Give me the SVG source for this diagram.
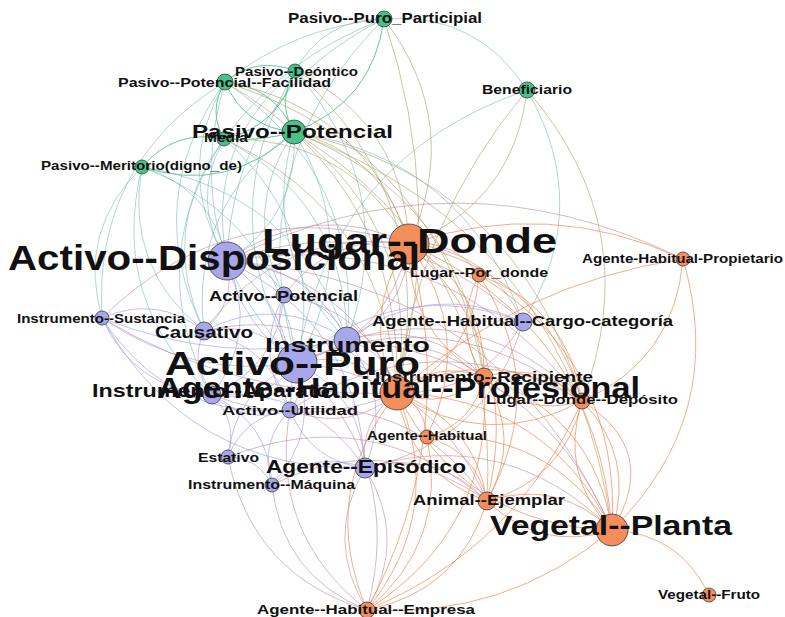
<svg xmlns="http://www.w3.org/2000/svg" width="785" height="617" viewBox="0 0 785 617">
  <style>
    .edges path { fill: none; stroke-width: 0.9; stroke-linecap: round; }
    .g path { stroke: #35b97a; stroke-opacity: 0.85; }
    .t path { stroke: #6db4ae; stroke-opacity: 0.6; }
    .o path { stroke: #a6a068; stroke-opacity: 0.65; }
    .p path { stroke: #9d9be6; stroke-opacity: 0.7; }
    .m path { stroke: #b57f93; stroke-opacity: 0.6; }
    .r path { stroke: #f0834f; stroke-opacity: 0.75; }
    .node circle { stroke: #3c3c3c; stroke-width: 0.8; }
    .ng circle { fill: #47c38a; }
    .np circle { fill: #a9a7ec; }
    .no circle { fill: #f48e5c; }
    .node text { font-family: "Liberation Sans", Arial, sans-serif; font-weight: bold; fill: #111; }
  </style>
  <rect width="785" height="617" fill="#ffffff"/>

  <g id="connectors" class="edges">
    <g class="g">
      <path d="M294 132 Q244.5 127.7 225 82" stroke-width="2.5"/>
      <path d="M225 82 Q274.5 86.3 294 132" stroke-width="2"/>
      <path d="M294 132 Q276 101.5 295 71" stroke-width="2"/>
      <path d="M384 19 Q373 102.5 294 132" stroke-width="1.6"/>
      <path d="M294 132 Q259 142 224 139" stroke-width="3"/>
      <path d="M294 132 Q228.5 195 142 167" stroke-width="1.6"/>
      <path d="M225 82 Q256.7 55.5 295 71" stroke-width="1.2"/>
      <path d="M224 139 Q207.4 110.5 225 82" stroke-width="1.6"/>
      <path d="M142 167 Q174.6 128.4 224 139" stroke-width="1.2"/>
      <path d="M295 71 Q279.9 126.3 224 139"/>
    </g>
    <g class="t">
      <path d="M384 19 Q476.8 11.6 527 90"/>
      <path d="M295 71 Q323.9 18.3 384 19"/>
      <path d="M225 82 Q295 26.6 384 19"/>
      <path d="M224 139 Q286 55 384 19"/>
      <path d="M227 261 Q172.3 172.1 225 82"/>
      <path d="M297 363 Q177 244 225 82"/>
      <path d="M225 82 Q363 174 347 340"/>
      <path d="M102 318 Q92.7 163 225 82"/>
      <path d="M227 261 Q189 201 224 139"/>
      <path d="M224 139 Q327.7 229 297 363"/>
      <path d="M204 331 Q156.4 229 224 139"/>
      <path d="M212 395 Q141 263 224 139"/>
      <path d="M142 167 Q212.7 188.5 227 261"/>
      <path d="M102 318 Q76.7 230.5 142 167"/>
      <path d="M142 167 Q278.3 218.5 297 363"/>
      <path d="M204 331 Q123.8 267.6 142 167"/>
      <path d="M294 132 Q299.2 216.6 227 261"/>
      <path d="M294 132 Q364.8 246.6 297 363"/>
      <path d="M347 340 Q258 252 294 132"/>
      <path d="M284 295 Q240 210.5 294 132"/>
      <path d="M294 132 Q465.5 158.3 523 322"/>
      <path d="M297 363 Q208.4 217.6 295 71"/>
      <path d="M227 261 Q232.9 92.9 384 19"/>
      <path d="M297 363 Q237.3 164.9 384 19"/>
      <path d="M297 363 Q330 157.5 527 90"/>
      <path d="M527 90 Q594.6 207 523 322"/>
      <path d="M212 395 Q108.6 302 142 167"/>
      <path d="M227 261 Q204 145.6 295 71"/>
      <path d="M295 71 Q401.7 190 347 340"/>
      <path d="M204 331 Q139.8 200.2 225 82"/>
      <path d="M204 331 Q189.3 204.5 294 132"/>
      <path d="M224 139 Q345.8 202.6 347 340"/>
      <path d="M142 167 Q296.4 192 347 340"/>
    </g>
    <g class="o">
      <path d="M225 82 Q404 186 397 393"/>
      <path d="M225 82 Q365.6 107.8 409 244"/>
      <path d="M224 139 Q348 136 409 244"/>
      <path d="M224 139 Q386.7 214 397 393"/>
      <path d="M294 132 Q385 153.5 409 244" stroke-width="1.5"/>
      <path d="M294 132 Q423.8 231.6 397 393" stroke-width="1.5"/>
      <path d="M294 132 Q462.5 197.5 484 377" stroke-width="1.3"/>
      <path d="M294 132 Q501.2 258.6 487 501"/>
      <path d="M294 132 Q518.7 180 582 401"/>
      <path d="M295 71 Q403.9 123.3 409 244"/>
      <path d="M295 71 Q442.6 201.4 397 393"/>
      <path d="M384 19 Q464 124 409 244"/>
      <path d="M397 393 Q416.5 222 527 90"/>
      <path d="M527 90 Q514 202 409 244"/>
      <path d="M527 90 Q647.8 229 582 401"/>
      <path d="M294 132 Q572.4 235.6 612 530"/>
      <path d="M384 19 Q446.6 204 397 393"/>
      <path d="M225 82 Q443 151.8 484 377"/>
    </g>
    <g class="p">
      <path d="M297 363 Q241.6 326 227 261" stroke-width="4.5"/>
      <path d="M297 363 Q270 333 284 295" stroke-width="3"/>
      <path d="M290 410 Q252.5 354 284 295" stroke-width="2"/>
      <path d="M204 331 Q260 319 297 363" stroke-width="4"/>
      <path d="M297 363 Q362.5 395 365 468" stroke-width="3"/>
      <path d="M297 363 Q264 404.5 212 395" stroke-width="3"/>
      <path d="M297 363 Q307.6 388.6 290 410" stroke-width="2.5"/>
      <path d="M227 261 Q310.7 264.5 347 340" stroke-width="1.5"/>
      <path d="M227 261 Q265.7 261 284 295" stroke-width="1.5"/>
      <path d="M227 261 Q236.5 303 204 331" stroke-width="1.5"/>
      <path d="M227 261 Q259.7 332.5 212 395" stroke-width="2"/>
      <path d="M227 261 Q303.2 316.6 290 410"/>
      <path d="M227 261 Q358 323 365 468" stroke-width="1.2"/>
      <path d="M297 363 Q190.5 379.5 102 318"/>
      <path d="M212 395 Q133.9 389.5 102 318"/>
      <path d="M290 410 Q168.4 420.4 102 318"/>
      <path d="M347 340 Q221 366 102 318"/>
      <path d="M102 318 Q157 294 204 331"/>
      <path d="M365 468 Q188.5 472 102 318"/>
      <path d="M204 331 Q278 292.6 347 340"/>
      <path d="M212 395 Q188.8 365.4 204 331"/>
      <path d="M204 331 Q270.7 344.7 290 410"/>
      <path d="M290 410 Q246.5 426 212 395" stroke-width="2"/>
      <path d="M212 395 Q238.6 421 228 457"/>
      <path d="M212 395 Q269 422 272 485"/>
      <path d="M228 457 Q244.9 414.9 290 410"/>
      <path d="M228 457 Q234.3 389.3 297 363"/>
      <path d="M228 457 Q258.4 457.8 272 485"/>
      <path d="M272 485 Q258.5 442 290 410"/>
      <path d="M297 363 Q321 431.5 272 485" stroke-width="2.5"/>
      <path d="M272 485 Q313.4 448.6 365 468"/>
      <path d="M365 468 Q310 461.5 290 410"/>
      <path d="M347 340 Q394.4 398.6 365 468" stroke-width="1.5"/>
      <path d="M297 363 Q315 336.5 347 340" stroke-width="2"/>
      <path d="M284 295 Q329 298.6 347 340"/>
      <path d="M284 295 Q278 366.6 212 395"/>
      <path d="M297 363 Q397.7 274.7 523 322" stroke-width="1.2"/>
      <path d="M347 340 Q429.6 278 523 322"/>
      <path d="M212 395 Q310.4 385.6 365 468"/>
    </g>
    <g class="m">
      <path d="M227 261 Q393 202.7 523 322"/>
      <path d="M523 322 Q481 395 397 393"/>
      <path d="M409 244 Q489.4 248.8 523 322"/>
      <path d="M523 322 Q487.8 442.4 365 468"/>
      <path d="M347 340 Q388 351.5 397 393" stroke-width="5"/>
      <path d="M297 363 Q356 348 397 393" stroke-width="4"/>
      <path d="M409 244 Q388.7 337 297 363" stroke-width="2.5"/>
      <path d="M409 244 Q406.8 310.6 347 340" stroke-width="1.5"/>
      <path d="M227 261 Q313 198 409 244" stroke-width="1.5"/>
      <path d="M227 261 Q351.6 276 397 393" stroke-width="1.5"/>
      <path d="M365 468 Q358.5 421 397 393" stroke-width="2"/>
      <path d="M365 468 Q408.6 538.4 367 610" stroke-width="1.2"/>
      <path d="M367 610 Q323.4 539.6 365 468"/>
      <path d="M367 610 Q282 576 272 485"/>
      <path d="M367 610 Q251.6 575.2 228 457"/>
      <path d="M367 610 Q268.5 533 290 410"/>
      <path d="M297 363 Q406 465.5 367 610"/>
      <path d="M365 468 Q436 448 487 501"/>
      <path d="M397 393 Q305 431 212 395"/>
      <path d="M397 393 Q348.6 433.6 290 410"/>
      <path d="M290 410 Q415.8 396.4 487 501"/>
      <path d="M347 340 Q426.6 317.4 484 377"/>
      <path d="M297 363 Q394.7 313.9 484 377"/>
      <path d="M102 318 Q233.3 189 409 244"/>
      <path d="M397 393 Q238 400 102 318"/>
      <path d="M204 331 Q319 304 397 393"/>
      <path d="M227 261 Q446.5 224.5 582 401"/>
      <path d="M227 261 Q500 280 612 530"/>
      <path d="M347 340 Q536.5 355.5 612 530"/>
      <path d="M297 363 Q433.4 375 487 501"/>
      <path d="M227 261 Q454.5 146 683 259"/>
      <path d="M365 468 Q507 425 612 530"/>
      <path d="M272 485 Q384.3 428.5 487 501"/>
      <path d="M228 457 Q370.7 401.3 487 501"/>
      <path d="M297 363 Q451 296.5 582 401"/>
      <path d="M347 340 Q482.8 300 582 401"/>
      <path d="M290 410 Q433.3 317.9 582 401"/>
      <path d="M204 331 Q280.4 226 409 244"/>
      <path d="M284 295 Q331 232 409 244"/>
      <path d="M284 295 Q370 310 397 393"/>
    </g>
    <g class="r">
      <path d="M397 393 Q358.3 315 409 244" stroke-width="3.5"/>
      <path d="M484 377 Q406.6 333 409 244" stroke-width="1.5"/>
      <path d="M409 244 Q486.4 288 484 377"/>
      <path d="M397 393 Q435.7 359 484 377" stroke-width="3"/>
      <path d="M484 377 Q445.3 411 397 393" stroke-width="1.5"/>
      <path d="M397 393 Q474.4 420 487 501" stroke-width="2.5"/>
      <path d="M487 501 Q409.6 474 397 393" stroke-width="1.5"/>
      <path d="M397 393 Q545.6 397 612 530" stroke-width="2"/>
      <path d="M612 530 Q463.4 526 397 393"/>
      <path d="M397 393 Q425.2 406 427 437" stroke-width="1.5"/>
      <path d="M397 393 Q492 341.5 582 401" stroke-width="1.5"/>
      <path d="M582 401 Q487 452.5 397 393"/>
      <path d="M479 275 Q473.4 358.6 397 393"/>
      <path d="M397 393 Q447 510.5 367 610"/>
      <path d="M367 610 Q317 492.5 397 393"/>
      <path d="M409 244 Q453.3 238.5 479 275"/>
      <path d="M409 244 Q542.6 270.6 582 401"/>
      <path d="M409 244 Q596.3 326 612 530" stroke-width="1.2"/>
      <path d="M409 244 Q525 349 487 501"/>
      <path d="M409 244 Q476 335 427 437"/>
      <path d="M409 244 Q461 435 367 610"/>
      <path d="M479 275 Q622 362.6 612 530"/>
      <path d="M479 275 Q568 307 582 401"/>
      <path d="M484 377 Q451 327.5 479 275"/>
      <path d="M484 377 Q540 359.6 582 401" stroke-width="1.5"/>
      <path d="M582 401 Q526 418 484 377"/>
      <path d="M484 377 Q594 415 612 530"/>
      <path d="M484 377 Q522.7 438 487 501"/>
      <path d="M582 401 Q635.7 456.5 612 530"/>
      <path d="M612 530 Q558.3 474.5 582 401"/>
      <path d="M582 401 Q661.5 450.5 612 530"/>
      <path d="M487 501 Q558 478 612 530" stroke-width="1.5"/>
      <path d="M612 530 Q541 553 487 501"/>
      <path d="M612 530 Q680 533.4 709 595" stroke-width="1.2"/>
      <path d="M612 530 Q505.5 619 367 610"/>
      <path d="M427 437 Q547.4 428 612 530"/>
      <path d="M427 437 Q476 451 487 501"/>
      <path d="M427 437 Q449 541.5 367 610"/>
      <path d="M487 501 Q459.7 591.5 367 610"/>
      <path d="M582 401 Q516 548.5 367 610"/>
      <path d="M484 377 Q495.4 528.6 367 610"/>
      <path d="M582 401 Q564.5 479.5 487 501"/>
      <path d="M484 377 Q473.5 424 427 437"/>
      <path d="M479 275 Q550.8 385.6 487 501"/>
      <path d="M397 393 Q520 283 683 259"/>
      <path d="M683 259 Q675 360 582 401"/>
      <path d="M683 259 Q728.8 415.8 612 530"/>
      <path d="M409 244 Q549 196.7 683 259"/>
    </g>
  </g>

  <!-- node markers -->
  <g id="n-pasivo-puro-participial" class="node ng"><circle cx="384" cy="19" r="8"/></g>
  <g id="n-pasivo-deontico" class="node ng"><circle cx="295" cy="71" r="7"/></g>
  <g id="n-pasivo-potencial-facilidad" class="node ng"><circle cx="225" cy="82" r="8"/></g>
  <g id="n-beneficiario" class="node ng"><circle cx="527" cy="90" r="8"/></g>
  <g id="n-pasivo-potencial" class="node ng"><circle cx="294" cy="132" r="12"/></g>
  <g id="n-media" class="node ng"><circle cx="224" cy="139" r="7"/></g>
  <g id="n-pasivo-meritorio" class="node ng"><circle cx="142" cy="167" r="7"/></g>

  <g id="n-activo-disposicional" class="node np"><circle cx="227" cy="261" r="19"/></g>
  <g id="n-activo-potencial" class="node np"><circle cx="284" cy="295" r="8"/></g>
  <g id="n-instrumento-sustancia" class="node np"><circle cx="102" cy="318" r="7"/></g>
  <g id="n-causativo" class="node np"><circle cx="204" cy="331" r="9"/></g>
  <g id="n-instrumento" class="node np"><circle cx="347" cy="340" r="13"/></g>
  <g id="n-activo-puro" class="node np"><circle cx="297" cy="363" r="20"/></g>
  <g id="n-instrumento-aparato" class="node np"><circle cx="212" cy="395" r="9"/></g>
  <g id="n-activo-utilidad" class="node np"><circle cx="290" cy="410" r="8"/></g>
  <g id="n-estativo" class="node np"><circle cx="228" cy="457" r="7"/></g>
  <g id="n-agente-episodico" class="node np"><circle cx="365" cy="468" r="10"/></g>
  <g id="n-instrumento-maquina" class="node np"><circle cx="272" cy="485" r="7"/></g>
  <g id="n-cargo-categoria" class="node np"><circle cx="523" cy="322" r="9"/></g>

  <g id="n-lugar-donde" class="node no"><circle cx="409" cy="244" r="20"/></g>
  <g id="n-lugar-por-donde" class="node no"><circle cx="479" cy="275" r="7"/></g>
  <g id="n-propietario" class="node no"><circle cx="683" cy="259" r="7"/></g>
  <g id="n-instrumento-recipiente" class="node no"><circle cx="484" cy="377" r="9"/></g>
  <g id="n-agente-habitual-profesional" class="node no"><circle cx="397" cy="393" r="17"/></g>
  <g id="n-lugar-donde-deposito" class="node no"><circle cx="582" cy="401" r="8"/></g>
  <g id="n-agente-habitual" class="node no"><circle cx="427" cy="437" r="7"/></g>
  <g id="n-animal-ejemplar" class="node no"><circle cx="487" cy="501" r="9"/></g>
  <g id="n-vegetal-planta" class="node no"><circle cx="612" cy="530" r="16"/></g>
  <g id="n-vegetal-fruto" class="node no"><circle cx="709" cy="595" r="7"/></g>
  <g id="n-agente-habitual-empresa" class="node no"><circle cx="367" cy="610" r="8"/></g>

  <!-- labels, drawn over all markers -->
  <g id="labels" class="node">
    <text x="288" y="23" font-size="14" textLength="194" lengthAdjust="spacingAndGlyphs">Pasivo--Puro_Participial</text>
    <text x="235" y="76" font-size="13" textLength="123" lengthAdjust="spacingAndGlyphs">Pasivo--Deóntico</text>
    <text x="118" y="87" font-size="13" textLength="213" lengthAdjust="spacingAndGlyphs">Pasivo--Potencial--Facilidad</text>
    <text x="482" y="94" font-size="13" textLength="90" lengthAdjust="spacingAndGlyphs">Beneficiario</text>
    <text x="192" y="138" font-size="19" textLength="201" lengthAdjust="spacingAndGlyphs">Pasivo--Potencial</text>
    <text x="204" y="142" font-size="12" textLength="44" lengthAdjust="spacingAndGlyphs">Media</text>
    <text x="41" y="170" font-size="13" textLength="201" lengthAdjust="spacingAndGlyphs">Pasivo--Meritorio(digno_de)</text>
    <text x="262" y="253" font-size="35" textLength="295" lengthAdjust="spacingAndGlyphs">Lugar--Donde</text>
    <text x="8" y="270" font-size="35" textLength="412" lengthAdjust="spacingAndGlyphs">Activo--Disposicional</text>
    <text x="410" y="277" font-size="13" textLength="138" lengthAdjust="spacingAndGlyphs">Lugar--Por_donde</text>
    <text x="582" y="263" font-size="13" textLength="201" lengthAdjust="spacingAndGlyphs">Agente-Habitual-Propietario</text>
    <text x="209" y="301" font-size="14" textLength="149" lengthAdjust="spacingAndGlyphs">Activo--Potencial</text>
    <text x="17" y="323" font-size="12" textLength="168" lengthAdjust="spacingAndGlyphs">Instrumento--Sustancia</text>
    <text x="372" y="326" font-size="14" textLength="301" lengthAdjust="spacingAndGlyphs">Agente--Habitual--Cargo-categoría</text>
    <text x="155" y="338" font-size="16" textLength="98" lengthAdjust="spacingAndGlyphs">Causativo</text>
    <text x="265" y="352" font-size="20" textLength="165" lengthAdjust="spacingAndGlyphs">Instrumento</text>
    <text x="165" y="375" font-size="33" textLength="255" lengthAdjust="spacingAndGlyphs">Activo--Puro</text>
    <text x="375" y="382" font-size="14" textLength="218" lengthAdjust="spacingAndGlyphs">Instrumento--Recipiente</text>
    <text x="92" y="397" font-size="18" textLength="238" lengthAdjust="spacingAndGlyphs">Instrumento--Aparato</text>
    <text x="157" y="398" font-size="30" textLength="483" lengthAdjust="spacingAndGlyphs">Agente--Habitual--Profesional</text>
    <text x="486" y="404" font-size="13" textLength="192" lengthAdjust="spacingAndGlyphs">Lugar--Donde--Depósito</text>
    <text x="222" y="415" font-size="13" textLength="136" lengthAdjust="spacingAndGlyphs">Activo--Utilidad</text>
    <text x="367" y="440" font-size="12" textLength="120" lengthAdjust="spacingAndGlyphs">Agente--Habitual</text>
    <text x="198" y="462" font-size="12" textLength="61" lengthAdjust="spacingAndGlyphs">Estativo</text>
    <text x="266" y="473" font-size="18" textLength="200" lengthAdjust="spacingAndGlyphs">Agente--Episódico</text>
    <text x="188" y="489" font-size="12" textLength="167" lengthAdjust="spacingAndGlyphs">Instrumento--Máquina</text>
    <text x="413" y="505" font-size="14" textLength="152" lengthAdjust="spacingAndGlyphs">Animal--Ejemplar</text>
    <text x="490" y="535" font-size="28" textLength="242" lengthAdjust="spacingAndGlyphs">Vegetal--Planta</text>
    <text x="658" y="599" font-size="12" textLength="102" lengthAdjust="spacingAndGlyphs">Vegetal--Fruto</text>
    <text x="257" y="614" font-size="13" textLength="218" lengthAdjust="spacingAndGlyphs">Agente--Habitual--Empresa</text>
  </g>
</svg>
